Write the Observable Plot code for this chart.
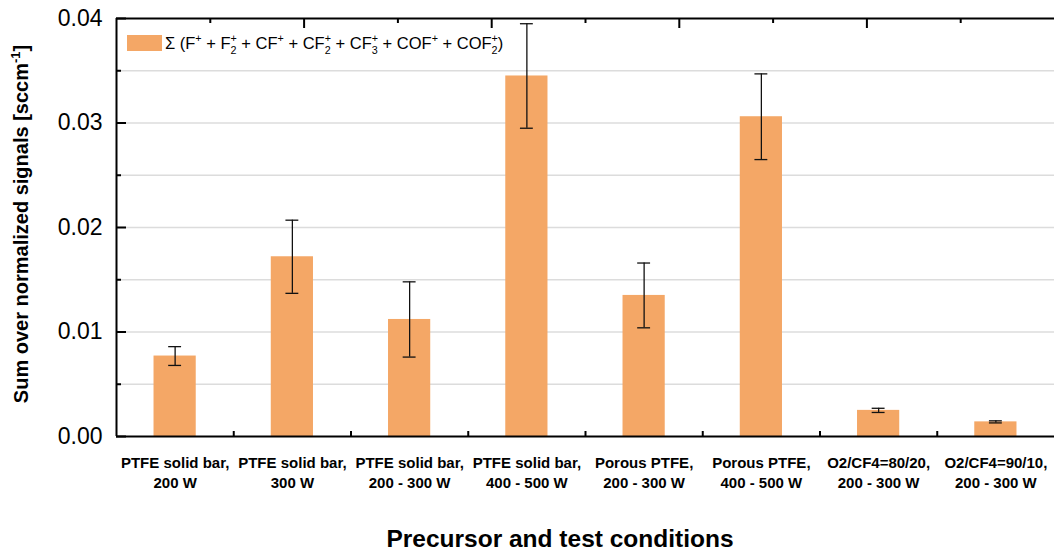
<!DOCTYPE html>
<html>
<head>
<meta charset="utf-8">
<script src="https://cdn.jsdelivr.net/npm/d3@7"></script>
<script src="https://cdn.jsdelivr.net/npm/@observablehq/plot@0.6"></script>
<style>
  body { margin: 0; background: #fff; }
  #chart { width: 1054px; height: 552px; }
</style>
</head>
<body>
<div id="chart"></div>
<script>
// Precursor / test condition categories (two-line tick labels)
const categories = [
  "PTFE solid bar,\n200 W",
  "PTFE solid bar,\n300 W",
  "PTFE solid bar,\n200 - 300 W",
  "PTFE solid bar,\n400 - 500 W",
  "Porous PTFE,\n200 - 300 W",
  "Porous PTFE,\n400 - 500 W",
  "O2/CF4=80/20,\n200 - 300 W",
  "O2/CF4=90/10,\n200 - 300 W"
];
// Summed normalized signals [sccm^-1] and their standard deviations
const values = [0.0077, 0.0172, 0.0112, 0.0345, 0.0135, 0.0306, 0.0025, 0.0014];
const errors = [0.0009, 0.0035, 0.0036, 0.0050, 0.0031, 0.0041, 0.0002, 0.0001];
const yTicks = [0, 0.01, 0.02, 0.03, 0.04];
const yMinorTicks = [0.005, 0.015, 0.025, 0.035];

const orange = "#F4A766";
const font = "'Liberation Sans', Arial, sans-serif";
const W = 1054, H = 552;
const mL = 116, mR = 0, mT = 18, mB = 116;
const plotW = W - mL - mR, plotH = H - mT - mB;

const rows = categories.map((label, i) => ({
  pos: i + 0.5, label, value: values[i], err: errors[i]
}));
const boundaries = d3.range(1, categories.length);
// secondary top axis: 10 intervals, major every second tick
const topTicks = d3.range(1, 10).map(k => ({x: k * categories.length / 10, major: k % 2 === 0}));
const halfBar = 0.18, halfCap = 0.055;

const plot = Plot.plot({
  width: W, height: H,
  marginLeft: mL, marginRight: mR, marginTop: mT, marginBottom: mB,
  style: {fontFamily: font, color: "#000", background: "#fff"},
  x: {domain: [0, categories.length], axis: null},
  y: {domain: [0, 0.04], axis: null},
  marks: [
    // light horizontal grid
    Plot.ruleY([...yMinorTicks, 0.01, 0.02, 0.03], {stroke: "#dcdcdc", strokeWidth: 1.3}),
    // bars
    Plot.rectY(rows, {x1: d => d.pos - halfBar, x2: d => d.pos + halfBar, y1: 0, y2: "value", fill: orange}),
    // error bars
    Plot.ruleX(rows, {x: "pos", y1: d => d.value - d.err, y2: d => d.value + d.err, stroke: "#111", strokeWidth: 1.3}),
    Plot.ruleY(rows, {y: d => d.value + d.err, x1: d => d.pos - halfCap, x2: d => d.pos + halfCap, stroke: "#111", strokeWidth: 1.3}),
    Plot.ruleY(rows, {y: d => d.value - d.err, x1: d => d.pos - halfCap, x2: d => d.pos + halfCap, stroke: "#111", strokeWidth: 1.3}),
    // inward ticks on the left axis
    Plot.ruleY(yTicks, {stroke: "#000", strokeWidth: 2, insetRight: plotW - 10}),
    Plot.ruleY(yMinorTicks, {stroke: "#000", strokeWidth: 2, insetRight: plotW - 5}),
    // inward ticks at category boundaries (bottom)
    Plot.ruleX(boundaries, {stroke: "#000", strokeWidth: 2, insetTop: plotH - 5}),
    // inward ticks along the top edge
    Plot.ruleX(topTicks.filter(d => d.major), {x: "x", stroke: "#000", strokeWidth: 2, insetBottom: plotH - 10}),
    Plot.ruleX(topTicks.filter(d => !d.major), {x: "x", stroke: "#000", strokeWidth: 2, insetBottom: plotH - 5}),
    // frame: left, top, bottom
    Plot.ruleX([0], {stroke: "#000", strokeWidth: 2}),
    Plot.ruleY([0, 0.04], {stroke: "#000", strokeWidth: 2}),
    // axes
    Plot.axisY(yTicks, {tickSize: 0, tickPadding: 14, tickFormat: d3.format(".2f"), fontSize: 23, label: null}),
    Plot.axisX(rows.map(d => d.pos), {
      tickSize: 0, tickPadding: 17, fontSize: 15, fontWeight: "bold", lineHeight: 1.33,
      tickFormat: d => categories[Math.floor(d)], label: null
    })
  ]
});

const svg = d3.select(plot);

// text with sub/superscripts (a sub followed by a sup stacks them)
function richText(sel, parts, size) {
  let shift = 0;
  const put = (s, target, fs, dx) => {
    const t = sel.append("tspan").attr("dy", target - shift).attr("font-size", fs).text(s);
    if (dx) t.attr("dx", dx);
    shift = target;
  };
  parts.forEach(p => {
    if (typeof p === "string") put(p, 0, size);
    else {
      if (p.sub) put(p.sub, 0.3 * size, 0.65 * size);
      if (p.sup) put(p.sup, -0.42 * size, 0.65 * size, p.sub ? -0.65 * size * 0.556 * p.sub.length : 0);
    }
  });
}

// legend
const legend = svg.append("g").attr("font-family", font).attr("text-anchor", "start");
legend.append("rect").attr("x", 127).attr("y", 35).attr("width", 35).attr("height", 16).attr("fill", orange);
const lt = legend.append("text").attr("x", 165).attr("y", 49).attr("fill", "#000");
richText(lt, [
  "Σ (F", {sup: "+"}, " + F", {sub: "2", sup: "+"}, " + CF", {sup: "+"}, " + CF", {sub: "2", sup: "+"},
  " + CF", {sub: "3", sup: "+"}, " + COF", {sup: "+"}, " + COF", {sub: "2", sup: "+"}, ")"
], 16.5);

// y axis title
const yl = svg.append("text")
  .attr("transform", "translate(28,224) rotate(-90)")
  .attr("text-anchor", "middle").attr("font-family", font)
  .attr("font-weight", "bold").attr("fill", "#000");
richText(yl, ["Sum over normalized signals [sccm", {sup: "-1"}, {sup: ""}, "]"], 20);

// x axis title
svg.append("text")
  .attr("x", 560).attr("y", 547).attr("text-anchor", "middle")
  .attr("font-family", font).attr("font-weight", "bold").attr("font-size", 24.5)
  .attr("fill", "#000").text("Precursor and test conditions");

document.getElementById("chart").appendChild(plot);
</script>
</body>
</html>
